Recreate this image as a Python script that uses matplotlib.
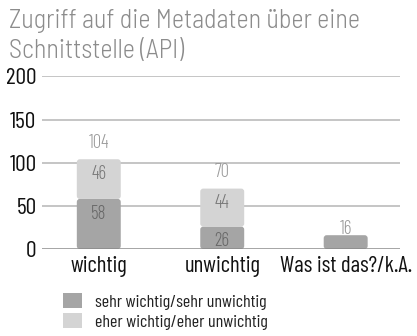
import matplotlib
matplotlib.use("Agg")
import matplotlib.pyplot as plt
from matplotlib.patches import FancyBboxPatch, Patch

plt.rcParams['font.family'] = ['Barlow Condensed', 'DejaVu Sans']
title_font = ['Barlow Semi Condensed', 'DejaVu Sans']

categories = ["wichtig", "unwichtig", "Was ist das?/k.A."]
sehr = [58, 26, 16]
eher = [46, 44, 0]
series_names = ["sehr wichtig/sehr unwichtig", "eher wichtig/eher unwichtig"]
yticks = [0, 50, 100, 150, 200]
title_lines = ["Zugriff auf die Metadaten über eine", "Schnittstelle (API)"]

dark = "#a5a5a5"
light = "#d4d4d4"

W, H, DPI = 417, 336, 100
fig = plt.figure(figsize=(W / DPI, H / DPI), dpi=DPI)
ax_h = 172.6
ax = fig.add_axes([42 / W, 87 / H, 358 / W, ax_h / H])

x = list(range(len(categories)))
bw = 0.356
xlo, xhi = -0.46, 2.44
ax.set_xlim(xlo, xhi)
ax.set_ylim(0, 200)

# rounded bar segments: aspect keeps the corner radius equal in x and y pixels
px_x = 358 / (xhi - xlo)
px_y = ax_h / 200
r = 3 / px_x
aspect = px_x / px_y


def seg(xc, y0, h, color):
    if h <= 0:
        return
    p = FancyBboxPatch((xc - bw / 2, y0), bw, h,
                       boxstyle=f"round,pad=0,rounding_size={r}",
                       mutation_aspect=aspect, fc=color, ec="none", zorder=3)
    ax.add_patch(p)


for i in x:
    seg(i, 0, sehr[i], dark)
    seg(i, sehr[i], eher[i], light)

lab = dict(ha="center", va="center", textcoords="offset points",
           fontsize=13.5, fontweight=300, zorder=4)
for i in x:
    total = sehr[i] + eher[i]
    if eher[i] > 0:
        ax.annotate(str(sehr[i]), (i, sehr[i]), xytext=(0, -10.5), color="#686868", **lab)
        ax.annotate(str(eher[i]), (i, total), xytext=(0, -10.5), color="#777777", **lab)
        ax.annotate(str(total), (i, total), xytext=(0, 12), color="#9a9a9a", **lab)
    else:
        ax.annotate(str(total), (i, total), xytext=(0, 4.5), color="#9a9a9a", **lab)

ax.set_yticks(yticks)
ax.set_yticklabels([str(v) for v in yticks], fontsize=17)
ax.set_xticks(x)
ax.set_xticklabels(categories, fontsize=16.5)
ax.tick_params(axis="both", length=0, colors="#111111")
ax.tick_params(axis="y", pad=4)
ax.tick_params(axis="x", pad=5)
for v in yticks[1:]:
    ax.axhline(v, color="#b5b5b5", lw=1.1, zorder=1)
ax.axhline(0, color="#8a8a8a", lw=1.8, zorder=5)
for s in ax.spines.values():
    s.set_visible(False)

for k, line in enumerate(title_lines):
    fig.text(9 / W, 1 - (28 + 30 * k) / H, line, ha="left", va="baseline",
             fontsize=18.8, fontweight=300, color="#8c8c8c", family=title_font)

handles = [Patch(fc=dark, ec="none"), Patch(fc=light, ec="none")]
fig.legend(handles, series_names, loc="upper left", bbox_to_anchor=(63 / W, 1 - 293 / H),
           frameon=False, fontsize=13, handlelength=1.05, handleheight=0.88,
           handletextpad=0.7, labelspacing=0.2, borderpad=0, borderaxespad=0,
           labelcolor="#222222")

fig.savefig("out.png", dpi=DPI)
